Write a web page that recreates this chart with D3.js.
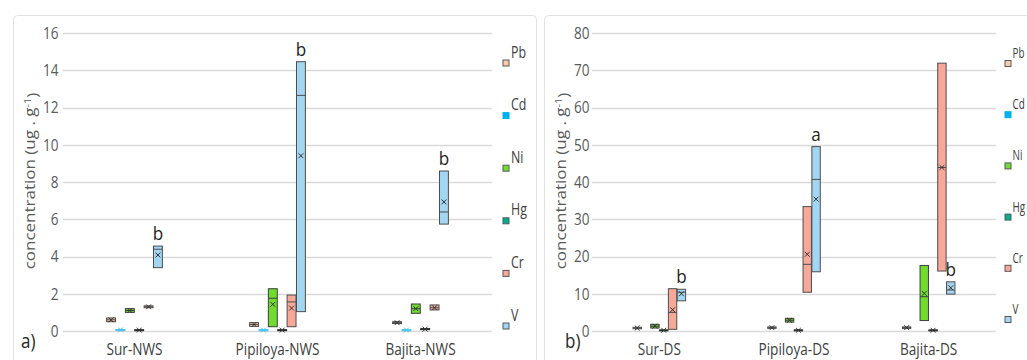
<!DOCTYPE html>
<html>
<head>
<meta charset="utf-8">
<script src="https://cdn.jsdelivr.net/npm/d3@7"></script>
<style>
  body { margin: 0; background: #fff; }
  svg { display: block; }
  text { font-family: "Open Sans", sans-serif; }
</style>
</head>
<body>
<svg id="chart" width="1027" height="360"></svg>
<script>
// Metals shown in every group, in drawing order
const metals = ["Pb", "Cd", "Ni", "Hg", "Cr", "V"];
const metalFill = ["#f8cbad", "#00b0f0", "#70dc2e", "#00b08c", "#f7a898", "#a3d6f2"];
const metalStroke = ["#4d4d4d", "#4cc3ee", "#3d3d3d", "#2d2d2d", "#4d4d4d", "#4d4d4d"];

// Panel a) — NWS sites. Rows follow the metals order, columns follow the sites.
const sitesNWS = ["Sur-NWS", "Pipiloya-NWS", "Bajita-NWS"];
const yTicksNWS = [0, 2, 4, 6, 8, 10, 12, 14, 16];
const nwsQ1 = [
  [0.50, 0.25, 0.40],
  [0.04, 0.03, 0.03],
  [1.00, 0.23, 0.95],
  [0.03, 0.03, 0.07],
  [1.25, 0.23, 1.13],
  [3.40, 1.04, 5.74]
];
const nwsMedian = [
  [0.60, 0.35, 0.45],
  [0.06, 0.05, 0.05],
  [1.10, 1.76, 1.20],
  [0.05, 0.05, 0.10],
  [1.30, 1.56, 1.25],
  [4.39, 12.65, 6.39]
];
const nwsQ3 = [
  [0.70, 0.45, 0.50],
  [0.08, 0.07, 0.07],
  [1.20, 2.27, 1.45],
  [0.07, 0.07, 0.13],
  [1.35, 1.93, 1.40],
  [4.56, 14.46, 8.59]
];
const nwsMean = [
  [0.60, 0.35, 0.45],
  [0.06, 0.05, 0.05],
  [1.10, 1.43, 1.20],
  [0.05, 0.05, 0.10],
  [1.30, 1.23, 1.25],
  [4.08, 9.41, 6.93]
];
const nwsLetters = ["b", "b", "b"];

// Panel b) — DS sites (no Cd values)
const sitesDS = ["Sur-DS", "Pipiloya-DS", "Bajita-DS"];
const yTicksDS = [0, 10, 20, 30, 40, 50, 60, 70, 80];
const dsQ1 = [
  [0.60, 0.70, 0.70],
  [null, null, null],
  [0.80, 2.40, 2.80],
  [0.10, 0.10, 0.10],
  [0.45, 10.4, 16.1],
  [8.10, 15.9, 9.90]
];
const dsMedian = [
  [0.80, 0.90, 0.90],
  [null, null, null],
  [1.30, 2.90, 9.20],
  [0.20, 0.20, 0.20],
  [5.00, 17.9, 43.9],
  [10.4, 40.7, 11.0]
];
const dsQ3 = [
  [1.00, 1.10, 1.10],
  [null, null, null],
  [1.80, 3.40, 17.6],
  [0.30, 0.30, 0.30],
  [11.36, 33.4, 71.9],
  [11.2, 49.5, 13.2]
];
const dsMean = [
  [0.80, 0.90, 0.90],
  [null, null, null],
  [1.30, 2.90, 10.1],
  [0.20, 0.20, 0.20],
  [5.70, 20.6, 43.9],
  [10.0, 35.4, 11.6]
];
const dsLetters = ["b", "a", "b"];

const svg = d3.select("#chart");
const SQ = 0.8; // horizontal squeeze applied to text

function drawPanel(cfg) {
  const root = svg.append("g");

  // panel frame
  root.append("rect")
    .attr("x", cfg.frameX + 0.5).attr("y", 15.5)
    .attr("width", cfg.frameW).attr("height", 380)
    .attr("rx", 4)
    .attr("fill", "none").attr("stroke", "#e2e2e2").attr("stroke-width", 1);

  const y = d3.scaleLinear().domain(cfg.yDomain).range([331, 33]);
  const x0 = d3.scaleBand().domain(cfg.sites).range([cfg.left, cfg.right]);
  const x1 = d3.scaleBand().domain(metals).range([0, x0.bandwidth()])
    .paddingOuter(4.65).paddingInner(0.05);

  // gridlines
  root.append("g").selectAll("line").data(cfg.ticks).join("line")
    .attr("x1", cfg.left).attr("x2", cfg.right)
    .attr("y1", d => Math.round(y(d)) + 0.5).attr("y2", d => Math.round(y(d)) + 0.5)
    .attr("stroke", "#d9d9d9").attr("stroke-width", 1.3);

  // y axis labels
  const axis = root.append("g")
    .attr("transform", `translate(${cfg.left},0)`)
    .call(d3.axisLeft(y).tickValues(cfg.ticks).tickSize(0).tickPadding(cfg.tickPad));
  axis.select(".domain").remove();
  axis.selectAll("text")
    .attr("fill", "#595959")
    .style("font-size", "17px")
    .style("font-family", "\"Open Sans\", sans-serif")
    .attr("transform", `scale(${SQ},1)`);

  // y axis title
  const title = root.append("text")
    .attr("transform", `translate(${cfg.titleX},181) scale(${SQ},1) rotate(-90)`)
    .attr("text-anchor", "middle")
    .attr("fill", "#595959")
    .style("font-size", "17px");
  title.append("tspan").text("concentration (ug . g");
  title.append("tspan").attr("dy", "-0.45em").style("font-size", "11px").text("-1");
  title.append("tspan").attr("dy", "0.45em").text(")");

  // category labels
  root.append("g").selectAll("text").data(cfg.sites).join("text")
    .attr("transform", d => `translate(${x0(d) + x0.bandwidth() / 2},355) scale(${SQ},1)`)
    .attr("text-anchor", "middle")
    .attr("fill", "#404040")
    .style("font-size", "17px")
    .text(d => d);

  // panel tag
  root.append("text")
    .attr("transform", `translate(${cfg.tagX},348) scale(0.85,1)`)
    .attr("fill", "#262626")
    .style("font-size", "20px")
    .text(cfg.tag);

  // flatten box records
  const rows = metals.flatMap((m, i) => cfg.sites.map((s, j) => ({
    metal: m, mi: i, site: s, si: j,
    q1: cfg.q1[i][j], med: cfg.median[i][j], q3: cfg.q3[i][j], mean: cfg.mean[i][j]
  }))).filter(d => d.q1 != null);

  const w = x1.bandwidth();
  const boxes = root.append("g").selectAll("g").data(rows).join("g")
    .attr("transform", d => `translate(${x0(d.site) + x1(d.metal)},0)`);

  boxes.append("rect")
    .attr("x", 0).attr("y", d => y(d.q3))
    .attr("width", w).attr("height", d => Math.max(y(d.q1) - y(d.q3), 1))
    .attr("fill", d => metalFill[d.mi])
    .attr("stroke", d => metalStroke[d.mi]).attr("stroke-width", 1);

  boxes.append("line")
    .attr("x1", 0).attr("x2", w)
    .attr("y1", d => y(d.med)).attr("y2", d => y(d.med))
    .attr("stroke", d => metalStroke[d.mi]).attr("stroke-width", 1);

  const s = 2.4;
  boxes.append("path")
    .attr("d", d => {
      const cx = w / 2, cy = y(d.mean);
      return `M${cx - s},${cy - s}L${cx + s},${cy + s}M${cx - s},${cy + s}L${cx + s},${cy - s}`;
    })
    .attr("stroke", d => d.mi === 1 ? metalStroke[1] : "#333")
    .attr("stroke-width", 1).attr("fill", "none");

  // significance letters over V
  const vi = metals.indexOf("V");
  root.append("g").selectAll("text").data(cfg.sites).join("text")
    .attr("transform", (d, j) => `translate(${x0(d) + x1("V") + w / 2},${y(cfg.q3[vi][j]) - 6}) scale(0.9,1)`)
    .attr("text-anchor", "middle")
    .attr("fill", "#1f1f1f")
    .style("font-size", "19px")
    .text((d, j) => cfg.letters[j]);

  // legend
  const ly = d3.scalePoint().domain(metals).range(cfg.legendY);
  const leg = root.append("g").selectAll("g").data(metals).join("g")
    .attr("transform", d => `translate(${cfg.legendX},${ly(d)})`);
  leg.append("rect")
    .attr("x", 0.5).attr("y", 0.5).attr("width", 6).attr("height", 6)
    .attr("fill", (d, i) => metalFill[i])
    .attr("stroke", (d, i) => i === 1 ? metalFill[1] : "#595959").attr("stroke-width", 1);
  leg.append("text")
    .attr("transform", `translate(${cfg.legendTextDx},-2) scale(${cfg.legendSq},1)`)
    .attr("fill", "#404040")
    .style("font-size", cfg.legendFont)
    .text(d => d);
}

drawPanel({
  frameX: 13, frameW: 523, left: 63, right: 492, tickPad: 5.5, titleX: 35,
  yDomain: [0, 16], ticks: yTicksNWS, sites: sitesNWS,
  q1: nwsQ1, median: nwsMedian, q3: nwsQ3, mean: nwsMean, letters: nwsLetters,
  tag: "a)", tagX: 21, legendX: 502.5, legendY: [59.5, 322.5],
  legendTextDx: 8.5, legendSq: SQ, legendFont: "15.5px"
});

drawPanel({
  frameX: 544, frameW: 520, left: 592, right: 996, tickPad: 3, titleX: 566,
  yDomain: [0, 80], ticks: yTicksDS, sites: sitesDS,
  q1: dsQ1, median: dsMedian, q3: dsQ3, mean: dsMean, letters: dsLetters,
  tag: "b)", tagX: 565, legendX: 1004.5, legendY: [60, 316],
  legendTextDx: 8, legendSq: 0.66, legendFont: "15px"
});
</script>
</body>
</html>
